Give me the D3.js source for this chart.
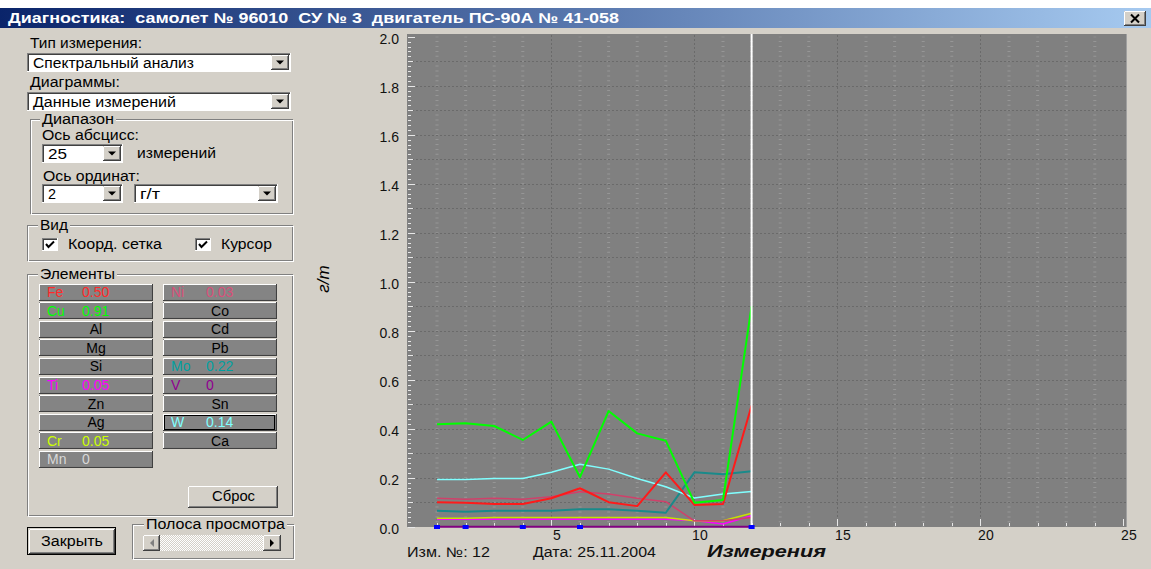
<!DOCTYPE html>
<html><head><meta charset="utf-8">
<script src="https://cdn.jsdelivr.net/npm/d3@7"></script>
<style>
body{margin:0;overflow:hidden;background:#d4d0c8}
svg{display:block}
text{font-family:"Liberation Sans",Arial,sans-serif;white-space:pre}
</style>
</head><body>
<svg id="c" width="1151" height="569"></svg>
<script>
// ---------- DATA ----------
const measurements = [1,2,3,4,5,6,7,8,9,10,11,12];
const fe = [0.100,0.098,0.093,0.093,0.116,0.157,0.100,0.084,0.222,0.089,0.093,0.495];
const cu = [0.418,0.422,0.411,0.354,0.429,0.202,0.472,0.381,0.351,0.098,0.109,0.900];
const w  = [0.193,0.193,0.197,0.197,0.222,0.255,0.235,0.197,0.163,0.117,0.133,0.144];
const mo = [0.065,0.061,0.065,0.065,0.065,0.071,0.071,0.065,0.057,0.222,0.214,0.226];
const ni = [0.116,0.112,0.116,0.112,0.122,0.143,0.133,0.116,0.102,0.024,0.024,0.038];
const cr = [0.034,0.034,0.038,0.038,0.038,0.038,0.038,0.038,0.038,0.024,0.024,0.055];
const ti = [0.030,0.030,0.030,0.030,0.030,0.030,0.030,0.030,0.030,0.025,0.011,0.045];
const mn = [0,0,0,0,0,0,0,0,0,0,0,0];
const v  = [0,0,0,0,0,0,0,0,0,0,0,0];
const yTickValues = [0,0.2,0.4,0.6,0.8,1.0,1.2,1.4,1.6,1.8,2.0];
const yTickLabels = ["0.0","0.2","0.4","0.6","0.8","1.0","1.2","1.4","1.6","1.8","2.0"];
const xTickValues = [5,10,15,20,25];
const xTickLabels = ["5","10","15","20","25"];
const markedMeasurements = [1,2,4,6,12];
const cursorMeasurement = 12;
const leftElements  = ["Fe","Cu","Al","Mg","Si","Ti","Zn","Ag","Cr","Mn"];
const leftValues    = ["0.50","0.91",null,null,null,"0.05",null,null,"0.05","0"];
const leftColors    = ["#ff2a2a","#00ff00",null,null,null,"#ff00ff",null,null,"#ccff00","#d8d8d8"];
const rightElements = ["Ni","Co","Cd","Pb","Mo","V","Sn","W","Ca"];
const rightValues   = ["0.03",null,null,null,"0.22","0",null,"0.14",null];
const rightColors   = ["#d8507a",null,null,null,"#00a0a0","#900090",null,"#80ffff",null];

// ---------- HELPERS ----------
const svg = d3.select("#c");
const FONT = '"Liberation Sans",Arial,sans-serif';
svg.append("rect").attr("width",1151).attr("height",569).attr("fill","#d4d0c8");
svg.append("rect").attr("width",1151).attr("height",8).attr("fill","#ffffff");

const defs = svg.append("defs");
const grad = defs.append("linearGradient").attr("id","tb");
grad.append("stop").attr("offset","0%").attr("stop-color","#0a246a");
grad.append("stop").attr("offset","100%").attr("stop-color","#a6caf0");
const pat = defs.append("pattern").attr("id","dither").attr("width",2).attr("height",2).attr("patternUnits","userSpaceOnUse");
pat.append("rect").attr("width",2).attr("height",2).attr("fill","#d4d0c8");
pat.append("rect").attr("width",1).attr("height",1).attr("fill","#ffffff");
pat.append("rect").attr("x",1).attr("y",1).attr("width",1).attr("height",1).attr("fill","#ffffff");

function line(g,x1,y1,x2,y2,c){g.append("line").attr("x1",x1).attr("y1",y1).attr("x2",x2).attr("y2",y2).attr("stroke",c).attr("stroke-width",1).attr("shape-rendering","crispEdges");}
function raised(g,x,y,w,h,fill){
  g.append("rect").attr("x",x).attr("y",y).attr("width",w).attr("height",h).attr("fill",fill).attr("shape-rendering","crispEdges");
  line(g,x+0.5,y+0.5,x+w-1,y+0.5,"#ffffff"); line(g,x+0.5,y+0.5,x+0.5,y+h-1,"#ffffff");
  line(g,x,y+h-0.5,x+w,y+h-0.5,"#404040"); line(g,x+w-0.5,y,x+w-0.5,y+h,"#404040");
  line(g,x+1,y+h-1.5,x+w-1,y+h-1.5,"#808080"); line(g,x+w-1.5,y+1,x+w-1.5,y+h-1,"#808080");
}
function sunken(g,x,y,w,h,fill){
  g.append("rect").attr("x",x).attr("y",y).attr("width",w).attr("height",h).attr("fill",fill).attr("shape-rendering","crispEdges");
  line(g,x,y+0.5,x+w,y+0.5,"#808080"); line(g,x+0.5,y,x+0.5,y+h,"#808080");
  line(g,x+1,y+1.5,x+w-1,y+1.5,"#404040"); line(g,x+1.5,y+1,x+1.5,y+h-1,"#404040");
  line(g,x,y+h-0.5,x+w,y+h-0.5,"#ffffff"); line(g,x+w-0.5,y,x+w-0.5,y+h,"#ffffff");
}
function txt(g,x,y,s,opt={}){
  const t=g.append("text").attr("x",x).attr("y",y).text(s)
    .attr("font-size",opt.size||14).attr("fill",opt.fill||"#000")
    .attr("font-weight",opt.weight||"normal").attr("font-style",opt.style||"normal")
    .attr("text-anchor",opt.anchor||"start");
  if(opt.len){t.attr("textLength",opt.len).attr("lengthAdjust","spacingAndGlyphs");}
  return t;
}
function arrowDown(g,cx,cy){g.append("path").attr("d",`M${cx-4},${cy-2}L${cx+4},${cy-2}L${cx},${cy+2}Z`).attr("fill","#000");}
function combo(g,x,y,w,h,label,len){
  sunken(g,x,y,w,h,"#ffffff");
  txt(g,x+6,y+h/2+5,label,{len:len});
  const bw=18; raised(g,x+w-bw-2,y+2,bw,h-4,"#d4d0c8");
  arrowDown(g,x+w-2-bw/2,y+h/2);
}
function group(g,x,y,w,h,label,lx,llen){
  g.append("rect").attr("x",x+0.5).attr("y",y+0.5).attr("width",w).attr("height",h).attr("fill","none").attr("stroke","#808080").attr("shape-rendering","crispEdges");
  g.append("rect").attr("x",x+1.5).attr("y",y+1.5).attr("width",w).attr("height",h).attr("fill","none").attr("stroke","#ffffff").attr("shape-rendering","crispEdges");
  g.append("rect").attr("x",lx-2).attr("y",y-6).attr("width",llen+4).attr("height",12).attr("fill","#d4d0c8");
  txt(g,lx,y+5,label,{len:llen});
}
function checkbox(g,x,y){
  sunken(g,x,y,16,13,"#ffffff");
  g.append("path").attr("d",`M${x+4},${y+6}L${x+6.5},${y+9}L${x+12},${y+3.5}`).attr("fill","none").attr("stroke","#000").attr("stroke-width",2);
}

// ---------- TITLE BAR ----------
svg.append("rect").attr("x",0).attr("y",8).attr("width",1151).attr("height",20).attr("fill","url(#tb)");
txt(svg,8,23,"Диагностика:  самолет № 96010  СУ № 3  двигатель ПС-90А № 41-058",{fill:"#fff",weight:"bold",size:14,len:611});
raised(svg,1124,11,22,15,"#d4d0c8");
svg.append("path").attr("d","M1131,14.5L1139,22.5M1139,14.5L1131,22.5").attr("stroke","#000").attr("stroke-width",2);

// ---------- LEFT PANEL ----------
const lp = svg.append("g");
txt(lp,30,48,"Тип измерения:",{len:112});
combo(lp,27,53,264,19,"Спектральный анализ",161);
txt(lp,30,87,"Диаграммы:",{len:90});
combo(lp,27,92,264,19,"Данные измерений",143);
group(lp,30,119,262,94,"Диапазон",42,72);
txt(lp,42,140,"Ось абсцисс:",{len:97});
combo(lp,42,144,81,19,"25",19);
txt(lp,137,158,"измерений",{len:79});
txt(lp,43,181,"Ось ординат:",{len:97});
combo(lp,42,184,81,19,"2",8);
combo(lp,134,184,144,19,"г/т",20);
group(lp,27,225,265,35,"Вид",40,28);
checkbox(lp,42,238); txt(lp,68,249,"Коорд. сетка",{len:94});
checkbox(lp,195,238); txt(lp,221,249,"Курсор",{len:51});
group(lp,27,274,265,241,"Элементы",40,75);

function elemButton(x,wid,i,name,val,col,focused){
  const cy=292+18.6*i, y=cy-8.5;
  raised(lp,x,y,wid,17,"#848484");
  if(focused){lp.append("rect").attr("x",x+1.5).attr("y",y+1.5).attr("width",wid-4).attr("height",14).attr("fill","none").attr("stroke","#000").attr("shape-rendering","crispEdges");}
  if(val!==null){
    txt(lp,x+8,cy+5,name,{fill:col});
    txt(lp,x+43,cy+5,val,{fill:col});
  } else {
    txt(lp,x+wid/2,cy+5,name,{anchor:"middle"});
  }
}
leftElements.forEach((e,i)=>elemButton(39,114,i,e,leftValues[i],leftColors[i],false));
rightElements.forEach((e,i)=>elemButton(163,114,i,e,rightValues[i],rightColors[i],e==="W"));

raised(lp,188,486,90,22,"#d4d0c8");
txt(lp,212,501,"Сброс",{len:43});
lp.append("rect").attr("x",27.5).attr("y",527.5).attr("width",88).attr("height",27).attr("fill","none").attr("stroke","#000");
raised(lp,29,529,86,25,"#d4d0c8");
txt(lp,41,546,"Закрыть",{len:62});
group(lp,132,524,161,34,"Полоса просмотра",146,139);
lp.append("rect").attr("x",143).attr("y",535).attr("width",138).attr("height",16).attr("fill","url(#dither)");
raised(lp,143,535,17,16,"#d4d0c8");
lp.append("path").attr("d","M154,539L154,547L150,543Z").attr("fill","#808080");
raised(lp,263,535,18,16,"#d4d0c8");
lp.append("path").attr("d","M270,539L270,547L274,543Z").attr("fill","#000");

// ---------- CHART ----------
const x = d3.scaleLinear().domain([0,25]).range([408.4,1123.4]);
const y = d3.scaleLinear().domain([0,2]).range([526.7,36.7]);
const plot = svg.append("g");
plot.append("rect").attr("x",407).attr("y",34).attr("width",720).attr("height",493).attr("fill","#808080");
line(plot,1126.5,34,1126.5,527,"#a0a0a0");

// minor marks at integer columns every 0.02
d3.range(1,26).forEach(i=>{
  if(i%5===0) return;
  plot.append("line").attr("x1",x(i)).attr("x2",x(i)).attr("y1",y(0)).attr("y2",y(2))
    .attr("stroke","#969696").attr("stroke-width",3)
    .attr("stroke-dasharray",`1,${(y(0)-y(0.02))-1}`)
    .attr("stroke-dashoffset",0.5+(y(0)-y(0.02)));
});
// horizontal dotted grid every 0.1
d3.range(1,20).forEach(k=>{
  const yy=Math.round(y(k/10))+0.5;
  plot.append("line").attr("x1",408).attr("x2",1126).attr("y1",yy).attr("y2",yy)
    .attr("stroke","#6a6a6a").attr("stroke-dasharray","2,2").attr("shape-rendering","crispEdges");
});
// vertical dotted grid every 5
[5,10,15,20].forEach(k=>{
  const xx=Math.round(x(k))+0.5;
  plot.append("line").attr("x1",xx).attr("x2",xx).attr("y1",35).attr("y2",527)
    .attr("stroke","#6a6a6a").attr("stroke-dasharray","2,2").attr("shape-rendering","crispEdges");
});
// left axis ticks
d3.range(0,101).forEach(k=>{
  const val=k*0.02, yy=Math.round(y(val))+0.5;
  const len = (k%10===0)?7:((k%5===0)?5:3);
  line(plot,408,yy,408+len,yy,"#e8e8e8");
});
// bottom ticks
d3.range(1,26).forEach(i=>{
  const xx=Math.round(x(i))+0.5;
  line(plot,xx,526,xx,(i%5===0)?519:523,"#e8e8e8");
});

// series
const ln = d3.line().x((d,i)=>x(measurements[i])).y(d=>y(d));
const series = [
  {data:mn,color:"#c0c0c0",w:1.5},
  {data:v,color:"#800080",w:2},
  {data:ti,color:"#ff00ff",w:1.5},
  {data:cr,color:"#c8e000",w:1.5},
  {data:ni,color:"#d0406a",w:1.5},
  {data:mo,color:"#1a8a8a",w:2},
  {data:w,color:"#80ffff",w:1.5},
  {data:fe,color:"#ff1a1a",w:2},
  {data:cu,color:"#00ff00",w:2}
];
series.forEach(s=>{
  plot.append("path").attr("d",ln(s.data)).attr("fill","none").attr("stroke",s.color).attr("stroke-width",s.w).attr("stroke-linejoin","round");
});

// cursor
plot.append("line").attr("x1",x(cursorMeasurement)).attr("x2",x(cursorMeasurement)).attr("y1",34).attr("y2",527)
  .attr("stroke","#ffffff").attr("stroke-width",2);
// markers
plot.selectAll("rect.mk").data(markedMeasurements).enter().append("rect")
  .attr("x",d=>x(d)-3).attr("y",525).attr("width",6).attr("height",4).attr("fill","#0000ff");

// axes labels
const yAxis = d3.axisLeft(y).tickValues(yTickValues).tickFormat((d,i)=>yTickLabels[i]).tickSize(0).tickPadding(2);
const ga = svg.append("g").attr("transform","translate(401,2)").call(yAxis);
ga.select(".domain").remove();
ga.selectAll("text").attr("font-family",FONT).attr("font-size",14).attr("fill","#111");
const xAxis = d3.axisBottom(x).tickValues(xTickValues).tickFormat((d,i)=>xTickLabels[i]).tickSize(0).tickPadding(0);
const gb = svg.append("g").attr("transform","translate(5,530)").call(xAxis);
gb.select(".domain").remove();
gb.selectAll("text").attr("font-family",FONT).attr("font-size",14).attr("fill","#111");

// axis titles / info
svg.append("text").attr("transform","translate(329,279) rotate(-90)").attr("text-anchor","middle")
  .attr("font-family",FONT).attr("font-size",17).attr("font-style","italic").text("г/т");
txt(svg,407,557,"Изм. №: 12",{len:83,size:14,fill:"#111"});
txt(svg,533,557,"Дата: 25.11.2004",{len:123,size:14,fill:"#111"});
txt(svg,707,557,"Измерения",{len:119,size:16,weight:"bold",style:"italic",fill:"#111"});
</script>
</body></html>
